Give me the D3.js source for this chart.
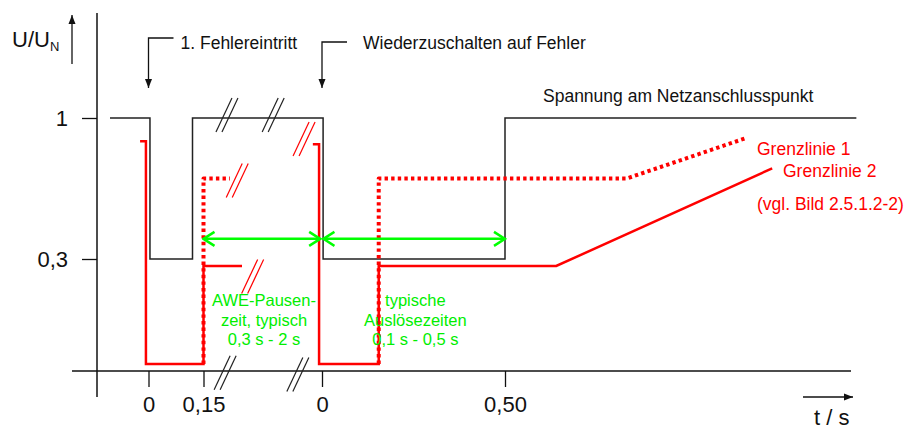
<!DOCTYPE html>
<html><head><meta charset="utf-8">
<script src="https://cdn.jsdelivr.net/npm/d3@7"></script>
<style>
body{margin:0;background:#fff;}
svg{display:block;font-family:"Liberation Sans",Arial,sans-serif;}
</style></head><body>
<script>
var w=906,h=430;

// points are [segment, t / s, U/UN]; segment 1 = 1. Fehlereintritt, segment 2 = Wiederzuschalten
var voltage=[[1,-0.105,1],[1,0.004,1],[1,0.004,0.3],[1,0.12,0.3],[1,0.12,1],[2,0.003,1],[2,0.003,0.3],[2,0.5,0.3],[2,0.5,1],[2,1.46,1]];
var grenz1=[[[1,0.15,0],[1,0.15,0.7],[1,0.222,0.7]],
            [[2,0.155,0],[2,0.155,0.7],[2,0.833,0.7],[2,1.158,0.9]]];
var grenz2=[[[1,-0.023,0.885],[1,-0.007,0.885],[1,-0.007,0],[1,0.15,0],[1,0.15,0.28],[1,0.255,0.28]],
            [[2,-0.025,0.87],[2,-0.008,0.87],[2,-0.008,0],[2,0.155,0],[2,0.155,0.28],[2,0.64,0.28],[2,1.23,0.75]]];
// time spans (green arrows)
var spans=[[[1,0.15],[2,-0.005]],[[2,0.004],[2,0.5]]];
var spanU=0.4;
var spanText=[["AWE-Pausen-","zeit, typisch","0,3 s - 2 s"],["typische","Auslösezeiten","0,1 s - 0,5 s"]];
var spanTextPos=[[1,0.315],[2,0.255]];
// break marks "//": [segment, t, U, colour]
var breaks=[[1,0.214,1.015,'#222'],[1,0.34,1.015,'#222'],[2,-0.049,0.896,'red'],[1,0.242,0.69,'red'],[1,0.284,0.25,'red'],[1,0.209,-0.025,'#222'],[2,-0.066,-0.03,'#222']];

var yTicks=[0.3,1], yTickLabels=['0,3','1'];
var x1Ticks=[0,0.15], x1Labels=['0','0,15'];
var x2Ticks=[0,0.5], x2Labels=['0','0,50'];

var svg=d3.select('body').append('svg').attr('width',w).attr('height',h);

var x1=d3.scaleLinear().domain([0,0.15]).range([148.5,203.5]);
var x2=d3.scaleLinear().domain([0,0.5]).range([322,505]);
var y=d3.scaleLinear().domain([0,0.3,1]).range([364,259,118]);
function px(p){return p[0]==1?x1(p[1]):x2(p[1]);}
var axisY=y(-0.02);

var defs=svg.append('defs');
defs.append('marker').attr('id','ah').attr('viewBox','0 -4 10 8').attr('refX',9).attr('refY',0)
  .attr('markerUnits','userSpaceOnUse').attr('markerWidth',10).attr('markerHeight',8).attr('orient','auto')
  .append('path').attr('d','M0,-3.5L9,0L0,3.5Z').attr('fill','#111');
defs.append('marker').attr('id','gh').attr('viewBox','-1 -9 14 18').attr('refX',11).attr('refY',0)
  .attr('markerUnits','userSpaceOnUse').attr('markerWidth',14).attr('markerHeight',18).attr('orient','auto-start-reverse')
  .append('path').attr('d','M0,-7L11,0L0,7').attr('fill','none').attr('stroke','#00ff00').attr('stroke-width',2.5);

// axes frame
svg.append('line').attr('x1',97).attr('x2',97).attr('y1',13).attr('y2',397).attr('stroke','#111').attr('stroke-width',1.5);
svg.append('line').attr('x1',72).attr('x2',851).attr('y1',axisY).attr('y2',axisY).attr('stroke','#111').attr('stroke-width',1.5);

var gy=svg.append('g').attr('transform','translate(97,0)')
  .call(d3.axisLeft(y).tickValues(yTicks).tickSize(15).tickPadding(14).tickFormat(function(d,i){return yTickLabels[i];}));
[[x1,x1Ticks,x1Labels],[x2,x2Ticks,x2Labels]].forEach(function(a){
  svg.append('g').attr('class','xa').attr('transform','translate(0,'+axisY+')')
    .call(d3.axisBottom(a[0]).tickValues(a[1]).tickSize(16).tickPadding(9).tickFormat(function(d,i){return a[2][i];}));
});
svg.selectAll('.domain').remove();
svg.selectAll('.tick line').attr('stroke','#111').attr('stroke-width',1.3);
svg.selectAll('.tick text').attr('font-size',22).attr('font-family','"Liberation Sans",Arial,sans-serif').attr('fill','#111');

// axis titles
var ut=svg.append('text').attr('x',12).attr('y',47).attr('font-size',22).attr('fill','#111').text('U/U');
ut.append('tspan').attr('font-size',13).attr('dy',4).text('N');
svg.append('line').attr('x1',72).attr('x2',72).attr('y1',64).attr('y2',15).attr('stroke','#111').attr('stroke-width',1.3).attr('marker-end','url(#ah)');
svg.append('line').attr('x1',803).attr('x2',853).attr('y1',397).attr('y2',397).attr('stroke','#111').attr('stroke-width',1.3).attr('marker-end','url(#ah)');
svg.append('text').attr('x',814).attr('y',425).attr('font-size',22).attr('fill','#111').text('t / s');

var line=d3.line().x(px).y(function(d){return y(d[2]);});

// voltage
svg.append('path').datum(voltage).attr('d',line).attr('fill','none').attr('stroke','#222').attr('stroke-width',1.5);

// Grenzlinie 2 (solid) and 1 (dotted)
svg.selectAll('.g2').data(grenz2).enter().append('path').attr('class','g2').attr('d',line)
  .attr('fill','none').attr('stroke','red').attr('stroke-width',2.5);
svg.selectAll('.g1').data(grenz1).enter().append('path').attr('class','g1').attr('d',line)
  .attr('fill','none').attr('stroke','red').attr('stroke-width',4).attr('stroke-dasharray','3.4,3.2').attr('stroke-linejoin','round');

// break marks
breaks.forEach(function(b){
  var cx=px(b),cy=y(b[2]);
  [-3,3].forEach(function(o){
    svg.append('line').attr('x1',cx+o-8).attr('y1',cy+17).attr('x2',cx+o+8).attr('y2',cy-17)
      .attr('stroke',b[3]).attr('stroke-width',1.2);
  });
});

// time spans
spans.forEach(function(s){
  svg.append('line').attr('x1',px(s[0])).attr('x2',px(s[1])).attr('y1',y(spanU)).attr('y2',y(spanU))
    .attr('stroke','#00ff00').attr('stroke-width',2.5).attr('marker-start','url(#gh)').attr('marker-end','url(#gh)');
});
spanText.forEach(function(lines,i){
  var t=svg.append('text').attr('text-anchor','middle').attr('font-size',16.5).attr('fill','#00ee00');
  lines.forEach(function(l,j){
    t.append('tspan').attr('x',px(spanTextPos[i])).attr('y',306+j*19.5).text(l);
  });
});

// callouts
var callouts=[['1. Fehlereintritt',1,0,38],['Wiederzuschalten auf Fehler',2,0,42]];
callouts.forEach(function(c){
  var xx=px([c[1],c[2]]);
  svg.append('path').attr('d','M'+(xx+25)+','+c[3]+'H'+xx+'V88').attr('fill','none').attr('stroke','#111').attr('stroke-width',1.3).attr('marker-end','url(#ah)');
  svg.append('text').attr('x',xx+32+(c[1]==2?9:0)).attr('y',48.5).attr('font-size',17.5).attr('fill','#111').text(c[0]);
});

svg.append('text').attr('x',543).attr('y',102).attr('font-size',17.5).attr('fill','#111').text('Spannung am Netzanschlusspunkt');
svg.append('text').attr('x',757).attr('y',155).attr('font-size',17.5).attr('fill','red').text('Grenzlinie 1');
svg.append('text').attr('x',783).attr('y',177).attr('font-size',17.5).attr('fill','red').text('Grenzlinie 2');
svg.append('text').attr('x',757).attr('y',210).attr('font-size',17.5).attr('fill','red').text('(vgl. Bild 2.5.1.2-2)');
</script>
</body></html>
